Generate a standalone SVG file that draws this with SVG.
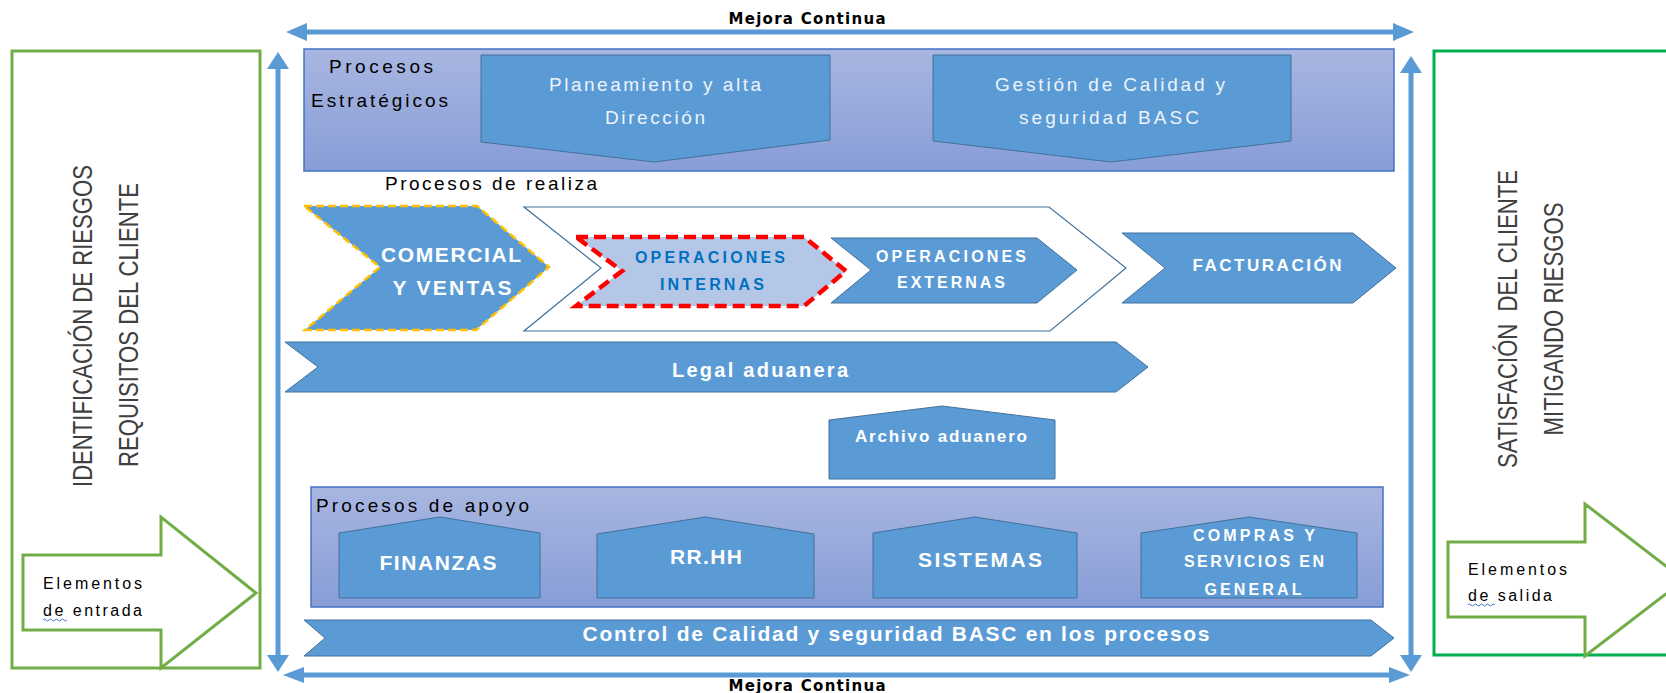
<svg xmlns="http://www.w3.org/2000/svg" width="1666" height="693" viewBox="0 0 1666 693">
<defs>
<style>
.arr{fill:#5B9BD5;}
.blk{fill:#5B9BD5;stroke:#41719C;stroke-width:1;}
.grp{fill:url(#boxGrad);stroke:#4472C4;stroke-width:1.5;}
.lbl{font-family:"Liberation Sans",Arial,sans-serif;font-weight:bold;fill:#FFFFFF;text-anchor:middle;}
.reg{font-family:"Liberation Sans",Arial,sans-serif;fill:#000000;}
.lt{font-family:"Liberation Sans",Arial,sans-serif;fill:#EEF3FA;text-anchor:middle;font-size:19px;}
.side{font-family:"Liberation Sans",Arial,sans-serif;fill:#404040;font-size:28px;text-anchor:middle;}
.mc{font-family:"DejaVu Sans",Verdana,sans-serif;font-weight:bold;font-size:15px;fill:#000;text-anchor:middle;}
.wavy{fill:none;stroke:#4472C4;stroke-width:1;}
</style>
<linearGradient id="boxGrad" x1="0" y1="0" x2="0" y2="1">
<stop offset="0" stop-color="#A8B6E0"/>
<stop offset="1" stop-color="#889DD7"/>
</linearGradient>
</defs>
<rect x="0" y="0" width="1666" height="693" fill="#FFFFFF"/>

<g id="left-box">
<rect x="12" y="51" width="248" height="617" fill="#FFFFFF" stroke="#70AD47" stroke-width="3"/>
<text class="side" transform="translate(92,326) rotate(-90)" textLength="322" lengthAdjust="spacingAndGlyphs">IDENTIFICACIÓN DE RIESGOS</text>
<text class="side" transform="translate(138,325) rotate(-90)" textLength="284" lengthAdjust="spacingAndGlyphs">REQUISITOS DEL CLIENTE</text>
</g>

<g id="elementos-entrada">
<path d="M23,555 L161,555 L161,517 L256,593 L161,668 L161,630 L23,630 Z" fill="#FFFFFF" stroke="#70AD47" stroke-width="3" stroke-linejoin="miter"/>
<text class="reg" x="43" y="589" font-size="16" textLength="99">Elementos</text>
<text class="reg" x="43" y="616" font-size="16" textLength="99">de entrada</text>
<path class="wavy" d="M43,620 q1.5,-2 3,0 t3,0 t3,0 t3,0 t3,0 t3,0 t3,0 t3,0"/>
</g>

<g id="right-box">
<rect x="1434" y="51" width="250" height="604" fill="#FFFFFF" stroke="#00B050" stroke-width="3"/>
<text class="side" transform="translate(1517,319) rotate(-90)" textLength="298" lengthAdjust="spacingAndGlyphs" xml:space="preserve">SATISFACIÓN  DEL CLIENTE</text>
<text class="side" transform="translate(1563,319) rotate(-90)" textLength="233" lengthAdjust="spacingAndGlyphs">MITIGANDO RIESGOS</text>
</g>

<g id="elementos-salida">
<path d="M1448,542 L1585,542 L1585,504 L1684,580 L1585,656 L1585,617 L1448,617 Z" fill="#FFFFFF" stroke="#70AD47" stroke-width="3"/>
<text class="reg" x="1468" y="575" font-size="16" textLength="99">Elementos</text>
<text class="reg" x="1468" y="601" font-size="16" textLength="84">de salida</text>
<path class="wavy" d="M1468,605 q1.5,-2 3,0 t3,0 t3,0 t3,0 t3,0 t3,0 t3,0 t3,0 t3,0"/>
</g>

<g id="procesos-estrategicos">
<rect class="grp" x="304" y="49" width="1090" height="122"/>
<text class="reg" x="329" y="73" font-size="19" textLength="104">Procesos</text>
<text class="reg" x="311" y="107" font-size="19" textLength="137">Estratégicos</text>
</g>

<g id="planeamiento">
<path class="blk" d="M481,55 L830,55 L830,140 L654,162 L481,142 Z"/>
<text class="lt" x="655" y="91" textLength="212">Planeamiento y alta</text>
<text class="lt" x="655" y="124" textLength="100">Dirección</text>
</g>

<g id="gestion-calidad">
<path class="blk" d="M933,55 L1291,55 L1291,141 L1111,162 L933,141 Z"/>
<text class="lt" x="1110" y="91" textLength="230">Gestión de Calidad y</text>
<text class="lt" x="1109" y="124" textLength="180">seguridad BASC</text>
</g>

<g id="procesos-realizacion">
<text class="reg" x="385" y="190" font-size="19" textLength="212">Procesos de realiza</text>
</g>

<g id="comercial-ventas">
<path d="M304,206 L477,206 L549,267 L476,330 L305,330 L380,267 Z" fill="#5B9BD5" stroke="#FFC000" stroke-width="2.5" stroke-dasharray="8 4"/>
<text class="lbl" x="451" y="262" font-size="21" textLength="140">COMERCIAL</text>
<text class="lbl" x="452" y="295" font-size="21" textLength="119">Y VENTAS</text>
</g>

<g id="operaciones">
<path d="M524,207 L1049,207 L1126,268 L1050,331 L524,331 L601,268 Z" fill="#FFFFFF" stroke="#41719C" stroke-width="1.2"/>
</g>

<g id="operaciones-internas">
<path d="M576,237 L804,237 L846,271 L804,306 L576,306 L622,271 Z" fill="#B4C7E7" stroke="#FF0000" stroke-width="4.5" stroke-dasharray="12 6"/>
<text class="lbl" x="710" y="263" font-size="16" textLength="150" style="fill:#0070C0">OPERACIONES</text>
<text class="lbl" x="712" y="290" font-size="16" textLength="104" style="fill:#0070C0">INTERNAS</text>
</g>

<g id="operaciones-externas">
<path class="blk" d="M831,238 L1037,238 L1077,270 L1037,303 L831,303 L871,270 Z"/>
<text class="lbl" x="951" y="262" font-size="16" textLength="150">OPERACIONES</text>
<text class="lbl" x="951" y="288" font-size="16" textLength="108">EXTERNAS</text>
</g>

<g id="facturacion">
<path class="blk" d="M1122,233 L1353,233 L1396,268 L1353,303 L1122,303 L1165,268 Z"/>
<text class="lbl" x="1267" y="271" font-size="17" textLength="149">FACTURACIÓN</text>
</g>

<g id="legal-aduanera">
<path class="blk" d="M285,342 L1116,342 L1148,367 L1116,392 L285,392 L318,367 Z"/>
<text class="lbl" x="760" y="377" font-size="20" textLength="176">Legal aduanera</text>
</g>

<g id="archivo-aduanero">
<path class="blk" d="M829,420 L942,406 L1055,420 L1055,479 L829,479 Z"/>
<text class="lbl" x="941" y="442" font-size="17" textLength="172">Archivo aduanero</text>
</g>

<g id="procesos-apoyo">
<rect class="grp" x="311" y="487" width="1072" height="120"/>
<text class="reg" x="316" y="512" font-size="19" textLength="213">Procesos de apoyo</text>
</g>

<g id="finanzas">
<path class="blk" d="M339,533 L440,517 L540,533 L540,598 L339,598 Z"/>
<text class="lbl" x="438" y="570" font-size="21" textLength="117">FINANZAS</text>
</g>

<g id="rrhh">
<path class="blk" d="M597,534 L705,517 L814,534 L814,598 L597,598 Z"/>
<text class="lbl" x="706" y="564" font-size="21" textLength="72">RR.HH</text>
</g>

<g id="sistemas">
<path class="blk" d="M873,533 L975,517 L1077,533 L1077,598 L873,598 Z"/>
<text class="lbl" x="980" y="567" font-size="21" textLength="124">SISTEMAS</text>
</g>

<g id="compras">
<path class="blk" d="M1141,533 L1249,517 L1357,533 L1357,598 L1141,598 Z"/>
<text class="lbl" x="1254" y="541" font-size="16" textLength="122">COMPRAS Y</text>
<text class="lbl" x="1254" y="567" font-size="16" textLength="140">SERVICIOS EN</text>
<text class="lbl" x="1253" y="595" font-size="16" textLength="97">GENERAL</text>
</g>

<g id="control-calidad">
<path class="blk" d="M304,620 L1371,620 L1394,638 L1371,656 L304,656 L325,638 Z"/>
<text class="lbl" x="896" y="641" font-size="21" textLength="627">Control de Calidad y seguridad BASC en los procesos</text>
</g>

<g id="connectors">
<path class="arr" d="M286,32 L307,23 L307,29.5 L1393,29.5 L1393,23 L1414,32 L1393,41 L1393,34.5 L307,34.5 L307,41 Z"/>
<path class="arr" d="M283,675 L304,667 L304,672.5 L1389,672.5 L1389,667 L1410,675 L1389,683 L1389,677.5 L304,677.5 L304,683 Z"/>
<path class="arr" d="M278,52 L289,69 L280.5,69 L280.5,655 L289,655 L278,672 L267,655 L275.5,655 L275.5,69 L267,69 Z"/>
<path class="arr" d="M1411,56 L1422,73 L1413.5,73 L1413.5,655 L1422,655 L1411,672 L1400,655 L1408.5,655 L1408.5,73 L1400,73 Z"/>
<text class="mc" x="807" y="24" textLength="157">Mejora Continua</text>
<text class="mc" x="807" y="691" textLength="157">Mejora Continua</text>
</g>
</svg>
